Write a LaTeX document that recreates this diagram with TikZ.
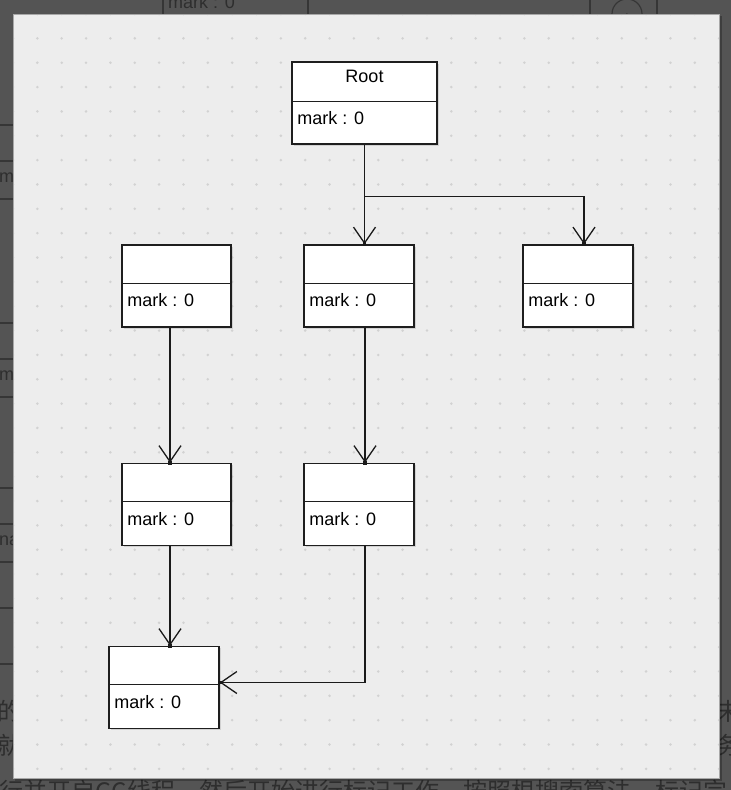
\documentclass[tikz,border=0pt]{standalone}
\usepackage{fontspec}
\setmainfont{Liberation Sans}
\newfontfamily\cjk{Noto Sans CJK SC}
\usetikzlibrary{arrows.meta,shadows}
\definecolor{bgdark}{HTML}{545454}
\definecolor{bgline}{HTML}{363636}
\definecolor{bgtxt}{HTML}{2E2E2E}
\definecolor{canvasC}{HTML}{EDEDED}
\definecolor{canvasB}{HTML}{A8A8A8}
\definecolor{dotC}{HTML}{D2D2D2}
\definecolor{boxline}{HTML}{1E1E1E}
\definecolor{lineC}{HTML}{1A1A1A}
\begin{document}
\begin{tikzpicture}[x=1pt,y=-1pt,
  cls/.style={draw=boxline, line width=1.5pt, fill=white, inner sep=0pt,
    drop shadow={shadow xshift=1.5pt, shadow yshift=-1.5pt, opacity=0.25}},
  divline/.style={draw=boxline, line width=1.3pt},
  titletext/.style={font=\fontsize{18}{20}\selectfont, text=black, inner sep=0pt},
  attrtext/.style={font=\fontsize{18}{20}\selectfont, text=black, inner sep=0pt},
  arr/.style={draw=lineC, line width=1.35pt,
    -{Straight Barb[length=16pt,width=22pt,line width=1.3pt]}},
  tipsq/.style={fill=lineC},
  bgtext/.style={text=bgtxt, inner sep=0pt, font=\fontsize{18}{20}\selectfont},
  cjktext/.style={text=bgtxt, inner sep=0pt, font=\cjk\fontsize{24}{26}\selectfont},
  bgrule/.style={draw=bgline, line width=1.2pt}]
\useasboundingbox (0,0) rectangle (731,790);
\clip (0,0) rectangle (731,790);
% background page (dimmed)
\fill[bgdark] (0,0) rectangle (731,790);
\draw[bgrule] (163,0) -- (163,14);
\draw[bgrule] (308,0) -- (308,14);
\draw[bgrule] (590,0) -- (590,14);
\draw[bgrule] (657,0) -- (657,14);
\draw[bgrule] (627,14) circle[radius=15pt];
\node[text=bgtxt, inner sep=0pt, font=\fontsize{20}{20}\selectfont] (bgplus) at (627,20) {+};
\node[bgtext, anchor=base west] (bgm) at (168,8) {mark : 0};
\foreach \yy in {125,161,199,323,359,397,488,524,562,608,664}
  \draw[bgrule] (0,\yy) -- (13,\yy);
\node[bgtext, anchor=base west] (bgm1) at (-1,182) {m};
\node[bgtext, anchor=base west] (bgm2) at (-1,380) {m};
\node[bgtext, anchor=base west] (bgm3) at (-1,545) {na};
\node[cjktext, anchor=west] (bgc1) at (-3,711) {的};
\node[cjktext, anchor=west] (bgc2) at (-3,745) {就};
\node[cjktext, anchor=west] (bgc3) at (716,711) {未};
\node[cjktext, anchor=west] (bgc4) at (716,745) {务};
\node[cjktext, anchor=west] (bgc5) at (-1,792) {行并开启GC线程，然后开始进行标记工作，按照根搜索算法，标记完};
% canvas
\fill[black, opacity=0.25] (15,16) rectangle (722,781);
\fill[canvasC] (13,14) rectangle (719,778);
\begin{scope}
  \clip (13,14) rectangle (719,778);
  \foreach \i in {0,...,29}
    \foreach \j in {0,...,31}
      \fill[dotC] (13+24.35*\i, 14+24.35*\j) circle[radius=1.4pt];
\end{scope}
\draw[canvasB, line width=0.8pt] (13,14) rectangle (719,778);
% class boxes
\node[cls, minimum width=145pt, minimum height=82pt] (root) at (364.5,103) {};
\draw[divline] ([yshift=-40pt]root.north west) -- ([yshift=-40pt]root.north east);
\node[titletext] (rootT) at ([yshift=-15pt]root.north) {Root};
\node[attrtext, anchor=west] (rootA) at ([xshift=6pt,yshift=-57pt]root.north west) {mark : 0};
\foreach \n/\cx/\cy/\w in {b/176.5/286/109, c/359/286/110, d/578/286/110,
                          e/176.5/504.5/109, f/359/504.5/110, g/164/687.5/110} {
  \node[cls, minimum width=\w pt, minimum height=82pt] (\n) at (\cx,\cy) {};
  \draw[divline] ([yshift=-39pt]\n.north west) -- ([yshift=-39pt]\n.north east);
  \node[attrtext, anchor=west] (\n A) at ([xshift=6pt,yshift=-56pt]\n.north west) {mark : 0};
}
% connectors
\coordinate (tC) at ([xshift=5.5pt]c.north);
\coordinate (tD) at ([xshift=6pt]d.north);
\coordinate (tE) at ([xshift=-6.5pt]e.north);
\coordinate (tF) at ([xshift=6pt]f.north);
\coordinate (tG1) at ([xshift=6pt]g.north);
\coordinate (tG2) at ([yshift=5pt]g.east);
\coordinate (j) at ([yshift=-52pt]root.south);
\draw[arr] (root.south) -- (tC);
\draw[arr] (j) -- (j -| tD) -- (tD);
\draw[arr] ([xshift=-6.5pt]b.south) -- (tE);
\draw[arr] ([xshift=6pt]c.south) -- (tF);
\draw[arr] ([xshift=-6.5pt]e.south) -- (tG1);
\draw[arr] ([xshift=6pt]f.south) |- (tG2);
\foreach \t in {tC,tD,tE,tF,tG1,tG2}
  \fill[tipsq] (\t) ++(-1.8,-1.8) rectangle ++(3.6,3.6);
\end{tikzpicture}
\end{document}
